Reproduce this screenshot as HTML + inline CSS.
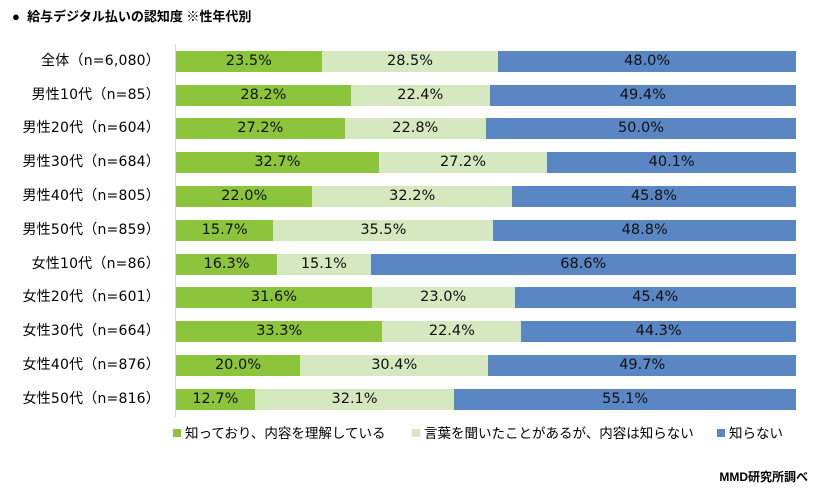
<!DOCTYPE html>
<html><head><meta charset="utf-8"><style>
body{margin:0;width:821px;height:494px;background:#fff;position:relative;font-family:"Liberation Sans","Noto Sans CJK JP",sans-serif;overflow:hidden}
.t{position:absolute;left:12px;top:6px;font-size:13px;font-weight:bold;color:#000}
.lab{position:absolute;left:0;width:160px;text-align:right;font-size:14px;color:#000;line-height:21px;font-family:"DejaVu Sans","Noto Sans CJK JP",sans-serif;letter-spacing:0.2px}
.bar{position:absolute;left:176px;width:620px;height:21px;display:flex}
.bar div{height:21px;line-height:21px;text-align:center;font-size:14.5px;color:#111;font-family:"DejaVu Sans",sans-serif}
.g{background:#8cc43c}.l{background:#d6e8bf}.b{background:#5a86c4}
.axis{position:absolute;left:175px;top:44px;width:1px;height:373px;background:#d9d9d9}
.leg{position:absolute;top:424px;font-size:13.5px;color:#000;line-height:20px}
.leg span{display:inline-block;width:8px;height:8px;margin-right:4px;vertical-align:1px}
.src{position:absolute;right:13px;top:468px;font-size:12px;font-weight:bold}
</style></head><body>
<div class="t">●&nbsp; 給与デジタル払いの認知度 ※性年代別</div>
<div class="axis"></div>
<div class="lab" style="top:51px">全体（n=6,080）</div>
<div class="bar" style="top:51px"><div class="g" style="width:23.5%">23.5%</div><div class="l" style="width:28.5%">28.5%</div><div class="b" style="width:48%">48.0%</div></div>
<div class="lab" style="top:85px">男性10代（n=85）</div>
<div class="bar" style="top:85px"><div class="g" style="width:28.2%">28.2%</div><div class="l" style="width:22.4%">22.4%</div><div class="b" style="width:49.4%">49.4%</div></div>
<div class="lab" style="top:118px">男性20代（n=604）</div>
<div class="bar" style="top:118px"><div class="g" style="width:27.2%">27.2%</div><div class="l" style="width:22.8%">22.8%</div><div class="b" style="width:50%">50.0%</div></div>
<div class="lab" style="top:152px">男性30代（n=684）</div>
<div class="bar" style="top:152px"><div class="g" style="width:32.7%">32.7%</div><div class="l" style="width:27.2%">27.2%</div><div class="b" style="width:40.1%">40.1%</div></div>
<div class="lab" style="top:186px">男性40代（n=805）</div>
<div class="bar" style="top:186px"><div class="g" style="width:22%">22.0%</div><div class="l" style="width:32.2%">32.2%</div><div class="b" style="width:45.8%">45.8%</div></div>
<div class="lab" style="top:220px">男性50代（n=859）</div>
<div class="bar" style="top:220px"><div class="g" style="width:15.7%">15.7%</div><div class="l" style="width:35.5%">35.5%</div><div class="b" style="width:48.8%">48.8%</div></div>
<div class="lab" style="top:254px">女性10代（n=86）</div>
<div class="bar" style="top:254px"><div class="g" style="width:16.3%">16.3%</div><div class="l" style="width:15.1%">15.1%</div><div class="b" style="width:68.6%">68.6%</div></div>
<div class="lab" style="top:287px">女性20代（n=601）</div>
<div class="bar" style="top:287px"><div class="g" style="width:31.6%">31.6%</div><div class="l" style="width:23%">23.0%</div><div class="b" style="width:45.4%">45.4%</div></div>
<div class="lab" style="top:321px">女性30代（n=664）</div>
<div class="bar" style="top:321px"><div class="g" style="width:33.3%">33.3%</div><div class="l" style="width:22.4%">22.4%</div><div class="b" style="width:44.3%">44.3%</div></div>
<div class="lab" style="top:355px">女性40代（n=876）</div>
<div class="bar" style="top:355px"><div class="g" style="width:20%">20.0%</div><div class="l" style="width:30.4%">30.4%</div><div class="b" style="width:49.6%">49.7%</div></div>
<div class="lab" style="top:389px">女性50代（n=816）</div>
<div class="bar" style="top:389px"><div class="g" style="width:12.7%">12.7%</div><div class="l" style="width:32.2%">32.1%</div><div class="b" style="width:55.1%">55.1%</div></div>
<div class="leg" style="left:173px"><span class="g"></span>知っており、内容を理解している</div>
<div class="leg" style="left:412px"><span class="l"></span>言葉を聞いたことがあるが、内容は知らない</div>
<div class="leg" style="left:717px"><span class="b"></span>知らない</div>
<div class="src">MMD研究所調べ</div>
</body></html>
